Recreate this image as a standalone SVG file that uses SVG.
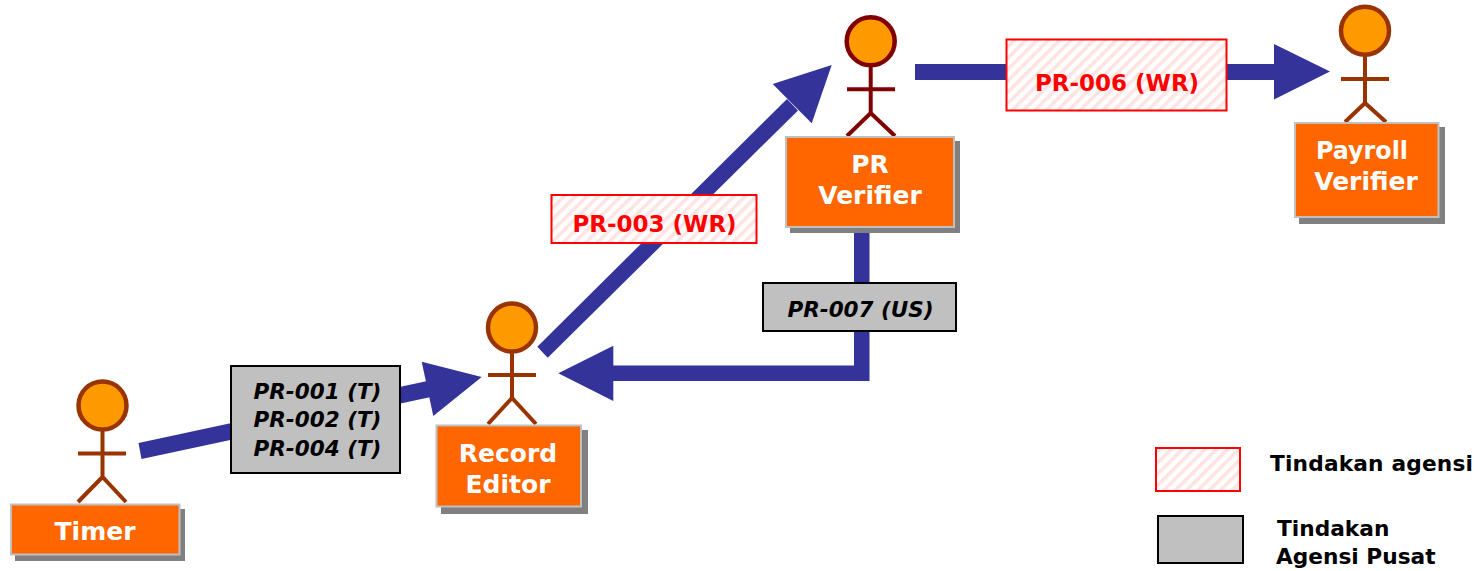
<svg xmlns="http://www.w3.org/2000/svg" width="1483" height="571" viewBox="0 0 1483 571">
<style>
text{font-family:"DejaVu Sans","Liberation Sans",sans-serif;text-anchor:middle}
.head{fill:#ff9900;stroke-width:4.500}
.fig{fill:none;stroke-width:4}
.a{stroke:#993300}.b{stroke:#800000}
.sh{fill:#808080}
.box{fill:#ff6600;stroke:#c0c0c0;stroke-width:2}
.nt{fill:#fff;font-weight:bold;font-size:25px}
.gr{fill:#c0c0c0;stroke:#000;stroke-width:2}
.rd{fill:url(#hatch);stroke:#ff0000;stroke-width:2}
.gt{fill:#000;font-style:italic;font-weight:bold;font-size:21.500px}
.rt{fill:#ff0000;font-weight:bold;font-size:23px}
.lg{fill:#000;font-weight:bold;font-size:21.700px;text-anchor:start}
.c{fill:#333399}
</style>
<defs>
<pattern id="hatch" width="8" height="8" patternUnits="userSpaceOnUse" patternTransform="rotate(45)">
<rect width="8" height="8" fill="#fff"/><rect width="3.500" height="8" fill="#ffe2e2"/>
</pattern>
</defs>
<g id="connectors">
<polygon class="c" points="138.500,443 432,380 435.500,396 141.500,459"/>
<polygon class="c" points="481.700,377 421.700,361.700 433.300,416"/>
<polygon class="c" points="537.300,346.700 787,99 798,110.500 547.700,357.700"/>
<polygon class="c" points="831.700,65 772.700,84 811.700,123.300"/>
<rect class="c" x="915" y="64" width="362" height="16"/>
<polygon class="c" points="1274,44 1274,99.500 1330,71.500"/>
<polygon class="c" points="854,227 869.500,227 869.500,381 610,381 610,365.500 854,365.500"/>
<polygon class="c" points="558.300,373.300 613.300,345.700 613.300,401"/>
</g>
<g id="timer">
<circle class="head a" cx="102.500" cy="405.500" r="24"/>
<path class="fig a" d="M102.500 430V477M78 453.500H126M78 502L102.500 477L126 502"/>
<rect class="sh" x="15" y="509" width="170" height="52"/>
<rect class="box" x="11" y="504.500" width="168.500" height="50"/>
<text class="nt" x="95" y="540">Timer</text>
</g>
<g id="record-editor">
<circle class="head a" cx="512" cy="327.500" r="24"/>
<path class="fig a" d="M512 352V398M488 375H536M488 424L512 398L536 424"/>
<rect class="sh" x="441" y="430" width="147" height="84"/>
<rect class="box" x="436.500" y="425.500" width="144.500" height="81"/>
<text class="nt" x="508" y="462">Record</text>
<text class="nt" x="508" y="493">Editor</text>
</g>
<g id="pr-verifier">
<circle class="head b" cx="870.700" cy="41.300" r="24"/>
<path class="fig b" d="M870.700 65V113M847 89.300H895M847 136L870.700 113L895 136"/>
<rect class="sh" x="790" y="141" width="170" height="92"/>
<rect class="box" x="786" y="137" width="168" height="90"/>
<text class="nt" x="870" y="173">PR</text>
<text class="nt" x="870" y="204">Verifier</text>
</g>
<g id="payroll-verifier">
<circle class="head a" cx="1365" cy="30.700" r="24"/>
<path class="fig a" d="M1365 55V103M1341 79H1389M1345 122L1365 103L1386 122"/>
<rect class="sh" x="1299" y="127" width="146" height="97"/>
<rect class="box" x="1295" y="123" width="143.500" height="94"/>
<text class="nt" x="1362" y="159" textLength="92" lengthAdjust="spacingAndGlyphs">Payroll</text>
<text class="nt" x="1366" y="190">Verifier</text>
</g>
<g id="label-pr-001">
<rect class="gr" x="231" y="366" width="169" height="107"/>
<text class="gt" x="317.500" y="399">PR-001 (T)</text>
<text class="gt" x="317.500" y="427">PR-002 (T)</text>
<text class="gt" x="317.500" y="456">PR-004 (T)</text>
</g>
<g id="label-pr-007">
<rect class="gr" x="763" y="283" width="193" height="48"/>
<text class="gt" x="860.500" y="317">PR-007 (US)</text>
</g>
<g id="label-pr-003">
<rect class="rd" x="551.500" y="195" width="205" height="48"/>
<text class="rt" x="654.500" y="232">PR-003 (WR)</text>
</g>
<g id="label-pr-006">
<rect class="rd" x="1006.500" y="39.500" width="220" height="71"/>
<text class="rt" x="1117" y="91">PR-006 (WR)</text>
</g>
<g id="legend-agency">
<rect class="rd" x="1156" y="448" width="84" height="43"/>
<text class="lg" x="1270" y="471" textLength="203">Tindakan agensi</text>
</g>
<g id="legend-central">
<rect class="gr" x="1158" y="516" width="85" height="47"/>
<text class="lg" x="1277" y="536">Tindakan</text>
<text class="lg" x="1276" y="564">Agensi Pusat</text>
</g>
</svg>
